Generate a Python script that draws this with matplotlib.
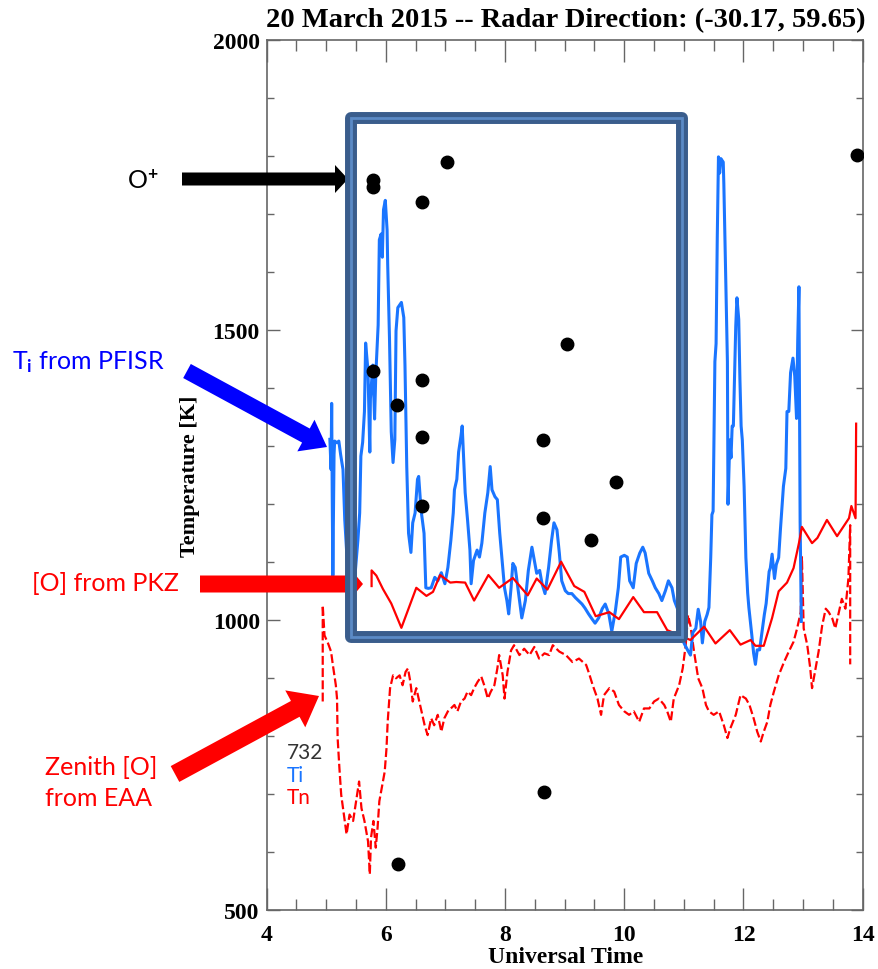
import matplotlib
matplotlib.use("Agg")
import matplotlib.pyplot as plt
from matplotlib.patches import FancyArrow, Rectangle
from matplotlib.transforms import IdentityTransform
from matplotlib.ticker import MultipleLocator

plt.rcParams['font.family'] = 'Liberation Serif'
plt.rcParams['font.weight'] = 'bold'
plt.rcParams['mathtext.fontset'] = 'custom'
plt.rcParams['mathtext.rm'] = 'Lato'
plt.rcParams['mathtext.it'] = 'Lato:italic'

# Ti from PFISR (blue)
ti_time = [5.06, 5.08, 5.09, 5.10, 5.11, 5.13, 5.14, 5.18, 5.21, 5.24,
           5.28, 5.31, 5.39, 5.46, 5.53, 5.56, 5.58, 5.61, 5.64, 5.66,
           5.70, 5.73, 5.74, 5.78, 5.81, 5.83, 5.87, 5.89, 5.92, 5.94,
           5.96, 5.99, 6.02, 6.03, 6.06, 6.09, 6.12, 6.15, 6.17, 6.20,
           6.26, 6.30, 6.32, 6.35, 6.38, 6.42, 6.45, 6.49, 6.53, 6.55,
           6.59, 6.64, 6.67, 6.71, 6.76, 6.82, 6.87, 6.93, 6.99, 7.04,
           7.09, 7.13, 7.15, 7.19, 7.22, 7.26, 7.28, 7.31, 7.33, 7.37,
           7.41, 7.43, 7.47, 7.53, 7.57, 7.61, 7.66, 7.71, 7.75, 7.78,
           7.83, 7.87, 7.91, 7.95, 7.99, 8.03, 8.06, 8.10, 8.13, 8.17,
           8.22, 8.28, 8.34, 8.39, 8.45, 8.48, 8.53, 8.58, 8.62, 8.67,
           8.73, 8.78, 8.82, 8.87, 8.91, 8.95, 9.01, 9.06, 9.12, 9.18,
           9.23, 9.29, 9.34, 9.40, 9.46, 9.51, 9.57, 9.63, 9.68, 9.74,
           9.79, 9.85, 9.90, 9.94, 10.00, 10.05, 10.09, 10.15, 10.20, 10.26,
           10.31, 10.35, 10.41, 10.47, 10.52, 10.58, 10.63, 10.69, 10.74, 10.80,
           10.84, 10.94, 11.00, 11.06, 11.11, 11.15, 11.20, 11.24, 11.28, 11.31,
           11.35, 11.39, 11.42, 11.45, 11.47, 11.49, 11.52, 11.54, 11.56, 11.58,
           11.60, 11.62, 11.66, 11.67, 11.70, 11.73, 11.74, 11.77, 11.79, 11.81,
           11.83, 11.87, 11.89, 11.92, 11.94, 11.96, 11.98, 12.01, 12.04, 12.07,
           12.09, 12.14, 12.17, 12.20, 12.23, 12.27, 12.31, 12.35, 12.38, 12.43,
           12.45, 12.48, 12.52, 12.55, 12.59, 12.62, 12.67, 12.71, 12.73, 12.76,
           12.79, 12.83, 12.86, 12.89, 12.91, 12.93, 12.94, 12.95, 12.97]
ti_temp = [1311, 1259, 1373, 1207, 1076, 1285, 1308, 1305, 1308, 1285,
           1259, 1172, 1033, 1050, 1137, 1184, 1282, 1306, 1359, 1477,
           1428, 1289, 1381, 1439, 1346, 1421, 1508, 1655, 1665, 1625,
           1707, 1723, 1672, 1613, 1486, 1324, 1271, 1311, 1498, 1538,
           1547, 1521, 1439, 1264, 1149, 1116, 1167, 1184, 1242, 1247,
           1189, 1149, 1055, 1054, 1055, 1073, 1067, 1081, 1062, 1090,
           1137, 1184, 1224, 1242, 1289, 1317, 1334, 1264, 1219, 1172,
           1120, 1062, 1102, 1120, 1108, 1132, 1184, 1219, 1264, 1224,
           1212, 1207, 1149, 1102, 1055, 1033, 1010, 1055, 1097, 1090,
           1050, 1003, 1033, 1085, 1125, 1108, 1080, 1085, 1062, 1045,
           1090, 1137, 1167, 1155, 1115, 1067, 1050, 1045, 1045, 1038,
           1033, 1027, 1020, 1010, 1001, 994, 1003, 1019, 1027, 1010,
           980, 1015, 1055, 1108, 1111, 1108, 1067, 1055, 1097, 1115,
           1125, 1115, 1080, 1067, 1055, 1045, 1033, 1050, 1067, 1055,
           1033, 1006, 960, 948, 939, 978, 985, 1018, 997, 960,
           997, 1009, 1021, 1107, 1181, 1187, 1445, 1476, 1660, 1798,
           1770, 1795, 1789, 1752, 1598, 1445, 1199, 1310, 1279, 1334,
           1334, 1506, 1555, 1518, 1414, 1334, 1310, 1230, 1107, 1046,
           1021, 973, 942, 923, 948, 948, 978, 1009, 1028, 1083,
           1089, 1113, 1071, 1095, 1107, 1156, 1230, 1261, 1359, 1359,
           1426, 1451, 1420, 1347, 1482, 1574, 1353, 1169, 997]

# [O] from PKZ (red solid)
pkz_time = [5.76, 5.76, 5.84, 5.95, 6.09, 6.26, 6.51, 6.68, 6.79, 6.91,
            7.08, 7.18, 7.33, 7.48, 7.72, 7.90, 8.13, 8.38, 8.53, 8.71,
            8.94, 9.16, 9.33, 9.52, 9.75, 9.91, 10.15, 10.33, 10.55, 10.72,
            11.11, 11.34, 11.53, 11.77, 11.95, 12.12, 12.20, 12.34, 12.48, 12.59,
            12.73, 12.84, 12.93, 12.98, 13.15, 13.24, 13.40, 13.57, 13.77, 13.81,
            13.88, 13.89]
pkz_temp = [1058, 1085, 1076, 1053, 1028, 986, 1055, 1041, 1048, 1077,
            1064, 1065, 1064, 1033, 1077, 1055, 1072, 1042, 1071, 1052,
            1100, 1058, 1048, 1006, 1013, 1001, 1039, 1013, 1013, 982,
            965, 988, 959, 982, 957, 965, 955, 955, 1003, 1049,
            1064, 1089, 1132, 1160, 1132, 1141, 1172, 1144, 1175, 1196,
            1175, 1338]

# Zenith [O] from EAA (red dashed)
eaa_time = [4.94, 4.94, 4.97, 5.03, 5.08, 5.11, 5.16, 5.18, 5.19, 5.22,
            5.25, 5.31, 5.34, 5.39, 5.45, 5.50, 5.55, 5.59, 5.64, 5.70,
            5.73, 5.75, 5.79, 5.83, 5.86, 5.89, 5.94, 5.98, 6.01, 6.03,
            6.07, 6.12, 6.17, 6.23, 6.28, 6.33, 6.37, 6.41, 6.45, 6.51,
            6.56, 6.61, 6.65, 6.70, 6.76, 6.81, 6.87, 6.93, 6.98, 7.04,
            7.09, 7.15, 7.20, 7.26, 7.32, 7.37, 7.43, 7.48, 7.54, 7.60,
            7.65, 7.71, 7.76, 7.82, 7.87, 7.90, 7.96, 7.99, 8.04, 8.10,
            8.15, 8.24, 8.32, 8.41, 8.49, 8.57, 8.66, 8.74, 8.80, 8.91,
            9.02, 9.13, 9.24, 9.36, 9.41, 9.47, 9.55, 9.61, 9.66, 9.75,
            9.83, 9.91, 10.00, 10.08, 10.16, 10.25, 10.33, 10.42, 10.50, 10.58,
            10.67, 10.72, 10.78, 10.83, 10.92, 10.98, 11.03, 11.07, 11.11, 11.17,
            11.24, 11.31, 11.37, 11.42, 11.50, 11.59, 11.67, 11.73, 11.78, 11.87,
            11.95, 12.04, 12.10, 12.17, 12.23, 12.29, 12.34, 12.40, 12.45, 12.51,
            12.59, 12.68, 12.76, 12.84, 12.90, 12.96, 12.98, 13.01, 13.07, 13.12,
            13.15, 13.21, 13.26, 13.32, 13.38, 13.43, 13.49, 13.54, 13.60, 13.65,
            13.71, 13.76, 13.79, 13.79]
eaa_temp = [859, 1025, 973, 959, 945, 922, 887, 864, 796, 744,
            698, 653, 630, 664, 653, 687, 721, 675, 653, 618,
            561, 624, 653, 607, 641, 687, 715, 738, 778, 824,
            882, 904, 899, 904, 887, 910, 916, 893, 859, 882,
            859, 836, 818, 801, 830, 818, 836, 807, 830, 842,
            847, 853, 842, 859, 864, 876, 870, 882, 893, 902,
            887, 864, 876, 887, 916, 939, 904, 864, 910, 947,
            956, 939, 950, 939, 953, 933, 942, 939, 956, 945,
            939, 927, 933, 922, 907, 887, 864, 836, 870, 882,
            876, 853, 842, 836, 842, 824, 847, 847, 859, 864,
            853, 842, 824, 864, 887, 916, 956, 1008, 990, 945,
            899, 882, 853, 842, 836, 842, 818, 796, 813, 836,
            870, 864, 853, 830, 807, 790, 807, 824, 853, 876,
            904, 927, 945, 962, 985, 1013, 1108, 985, 956, 916,
            882, 916, 945, 990, 1019, 1013, 1002, 985, 1013, 1036,
            1019, 1071, 1163, 923]

# O+ temperatures (black dots)
op_time = [5.78, 5.78, 7.02, 6.61, 9.04, 5.79, 6.61, 6.19, 6.61, 8.64,
           9.86, 6.61, 8.64, 9.44, 8.65, 6.20, 13.90]
op_temp = [1758, 1746, 1789, 1720, 1476, 1428, 1414, 1371, 1315, 1309,
           1237, 1196, 1175, 1138, 703, 578, 1802]

W, H = 879, 970
fig = plt.figure(figsize=(W / 100, H / 100), dpi=100)
ax = fig.add_axes([266.7 / W, 1 - 910.7 / H, (862.7 - 266.7) / W, (910.7 - 40.7) / H])

ax.plot(eaa_time, eaa_temp, color='#ff0000', lw=1.6, ls=(0, (4, 1.5)), zorder=2)
ax.plot(pkz_time, pkz_temp, color='#ff0000', lw=1.6, zorder=3)
ax.plot(ti_time, ti_temp, color='#1a75ff', lw=2.2, zorder=2.5)
ax.plot(op_time, op_temp, 'o', color='black', ms=9, zorder=4)

ax.set_xlim(4, 14)
ax.set_ylim(500, 2000)
ax.xaxis.set_major_locator(MultipleLocator(2))
ax.xaxis.set_minor_locator(MultipleLocator(0.5))
ax.yaxis.set_major_locator(MultipleLocator(500))
ax.yaxis.set_minor_locator(MultipleLocator(100))
for s in ax.spines.values():
    s.set_color('#666666')
    s.set_linewidth(1.2)
ax.tick_params(axis='x', which='major', direction='in', length=15.5, width=1, top=True,
               color='#666666', labelsize=17, pad=10)
ax.tick_params(axis='x', which='minor', direction='in', length=8, width=1, top=True, color='#666666')
ax.tick_params(axis='y', which='major', direction='in', length=9, width=1, right=True,
               color='#666666', labelsize=17, pad=5)
ax.tick_params(axis='y', which='minor', direction='in', length=5, width=1, right=True, color='#666666')

fig.text(565.5 / W, 1 - 21 / H, '20 March 2015 -- Radar Direction: (-30.17, 59.65)',
         ha='center', va='center', fontsize=20.5)
fig.text(565.5 / W, 1 - 958 / H, 'Universal Time', ha='center', va='center', fontsize=17)
fig.text(190 / W, 1 - 476 / H, 'Temperature [K]', ha='center', va='center', rotation=90, fontsize=16)

# highlight box
box_x0, box_x1 = 5.414, 10.968
box_y0, box_y1 = 969.4, 1865
fig.add_artist(Rectangle((box_x0, box_y0), box_x1 - box_x0, box_y1 - box_y0, transform=ax.transData,
                         fill=False, ec='#3a5d8c', lw=8.6, joinstyle='round', zorder=5))
fig.add_artist(Rectangle((box_x0, box_y0), box_x1 - box_x0, box_y1 - box_y0, transform=ax.transData,
                         fill=False, ec='#5b8ac6', lw=2, zorder=6))


def arrow(x0, y0, x1, y1, width, hw, hl, color):
    a = FancyArrow(x0, H - y0, x1 - x0, -(y1 - y0), width=width, head_width=hw, head_length=hl,
                   length_includes_head=True, color=color, lw=0,
                   transform=IdentityTransform(), zorder=4)
    fig.add_artist(a)


arrow(182, 180, 348, 180, 13, 28, 13, 'black')
arrow(187, 372, 327, 448, 16, 36, 24, '#0000ff')
arrow(200, 585, 363, 585, 17, 24, 10, '#ff0000')
arrow(175, 775, 319, 697, 18, 42, 27, '#ff0000')

sans = dict(family='Lato', weight='normal', fontsize=18, va='center')
fig.text(127 / W, 1 - 181 / H, r'O$^{+}$', color='black', **sans)
fig.text(12 / W, 1 - 362 / H, r'T$_{\mathrm{i}}$ from PFISR', color='#0000ff', **sans)
fig.text(32 / W, 1 - 584 / H, '[O] from PKZ', color='#ff0000', **sans)
fig.text(45 / W, 1 - 768 / H, 'Zenith [O]', color='#ff0000', **sans)
fig.text(45 / W, 1 - 799 / H, 'from EAA', color='#ff0000', **sans)

small = dict(family='Lato', weight='normal', fontsize=15, va='center')
fig.text(287 / W, 1 - 753 / H, '732', color='#333333', **small)
fig.text(287 / W, 1 - 776 / H, 'Ti', color='#1a75ff', **small)
fig.text(287 / W, 1 - 798 / H, 'Tn', color='#ff0000', **small)

fig.savefig('out.png', dpi=100)
